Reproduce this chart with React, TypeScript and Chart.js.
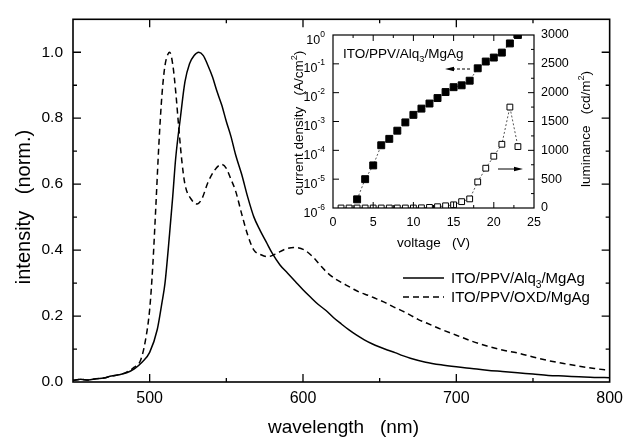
import React, { useEffect, useRef } from "react";
import { Chart, registerables } from "chart.js";

Chart.register(...registerables);

const FONT = '"Liberation Sans", Arial, Helvetica, sans-serif';

// ---------- main chart data (EL spectra) ----------
const alqWavelength = [450, 455, 460, 465, 470, 475, 480, 485, 490, 495, 500, 505, 508, 510, 513, 515, 517, 520, 523, 526, 529, 532, 535, 538, 541, 544, 547, 550, 553, 556, 560, 564, 568, 572, 576, 580, 585, 590, 595, 600, 605, 610, 615, 620, 625, 630, 635, 640, 645, 650, 655, 660, 665, 670, 680, 690, 700, 710, 720, 730, 740, 750, 760, 770, 780, 790, 800];
const alqIntensity = [0.005, 0.008, 0.006, 0.01, 0.012, 0.018, 0.022, 0.028, 0.04, 0.06, 0.09, 0.16, 0.24, 0.3, 0.45, 0.56, 0.68, 0.8, 0.91, 0.965, 0.99, 1.0, 0.99, 0.96, 0.925, 0.88, 0.84, 0.79, 0.745, 0.69, 0.63, 0.56, 0.5, 0.46, 0.425, 0.39, 0.355, 0.33, 0.305, 0.28, 0.257, 0.235, 0.217, 0.195, 0.176, 0.158, 0.142, 0.128, 0.116, 0.106, 0.097, 0.089, 0.08, 0.072, 0.06, 0.052, 0.046, 0.041, 0.036, 0.032, 0.028, 0.024, 0.02, 0.018, 0.016, 0.014, 0.013];

const oxdWavelength = [450, 455, 460, 465, 470, 475, 480, 485, 490, 494, 497, 500, 502, 504, 506, 508, 510, 512, 513, 515, 517, 519, 521, 523, 527, 531, 534, 538, 542, 547, 550, 553, 556, 560, 564, 568, 573, 577, 582, 588, 594, 601, 607, 612, 616, 621, 627, 632, 637, 643, 648, 654, 659, 665, 670, 675, 681, 690, 700, 710, 720, 730, 740, 750, 760, 770, 780, 790, 800];
const oxdIntensity = [0.005, 0.008, 0.006, 0.01, 0.012, 0.018, 0.022, 0.03, 0.045, 0.065, 0.12, 0.22, 0.35, 0.53, 0.72, 0.87, 0.96, 0.995, 1.0, 0.965, 0.88, 0.77, 0.67, 0.6, 0.555, 0.54, 0.555, 0.605, 0.64, 0.66, 0.648, 0.615, 0.58, 0.51, 0.445, 0.4, 0.385, 0.38, 0.388, 0.402, 0.408, 0.4, 0.377, 0.35, 0.331, 0.313, 0.297, 0.284, 0.272, 0.262, 0.252, 0.24, 0.228, 0.215, 0.203, 0.19, 0.178, 0.16, 0.142, 0.124, 0.109, 0.097, 0.088, 0.076, 0.065, 0.056, 0.048, 0.041, 0.035];

const seriesLabels = ["ITO/PPV/Alq₃/MgAg", "ITO/PPV/OXD/MgAg"];
const wavelengthTicks = [500, 600, 700, 800];
const intensityTicks = [0, 0.2, 0.4, 0.6, 0.8, 1.0];
const xTitle = "wavelength   (nm)";
const yTitle = "intensity   (norm.)";

// ---------- inset data (J-V and L-V) ----------
const currentVoltage = [3, 4, 5, 6, 7, 8, 9, 10, 11, 12, 13, 14, 15, 16, 17, 18, 19, 20, 21, 22, 23];
const currentDensity = [2e-6, 1e-5, 3e-5, 1.5e-4, 2.5e-4, 4.8e-4, 9.3e-4, 1.7e-3, 2.8e-3, 4.2e-3, 6.5e-3, 1.05e-2, 1.55e-2, 1.8e-2, 2.6e-2, 7e-2, 1.2e-1, 1.65e-1, 2.45e-1, 5.1e-1, 1.0];
const luminanceVoltage = [1, 2, 3, 4, 5, 6, 7, 8, 9, 10, 11, 12, 13, 14, 15, 16, 17, 18, 19, 20, 21, 22, 23];
const luminance = [0, 0, 0, 0, 0, 0, 0, 0, 0, 0, 3, 10, 22, 38, 55, 110, 158, 452, 690, 898, 1105, 1750, 1065];
const voltageTicks = [0, 5, 10, 15, 20, 25];
const luminanceTicks = [0, 500, 1000, 1500, 2000, 2500, 3000];
const currentDecades = [-6, -5, -4, -3, -2, -1, 0];
const insetLabel = "ITO/PPV/Alq₃/MgAg";
const voltageTitle = "voltage   (V)";
const currentTitle = "current density   (A/cm²)";
const luminanceTitle = "luminance   (cd/m²)";

type Seg = { t: string; sub?: boolean; sup?: boolean };

const SUBS: Record<string, string> = { "₀": "0", "₁": "1", "₂": "2", "₃": "3", "₄": "4" };
const SUPS: Record<string, string> = { "⁰": "0", "¹": "1", "²": "2", "³": "3", "⁻": "-" };

function toSegs(s: string): Seg[] {
  const out: Seg[] = [];
  for (const ch of s) {
    const kind = SUBS[ch] ? "sub" : SUPS[ch] ? "sup" : "n";
    const t = SUBS[ch] || SUPS[ch] || ch;
    const last = out[out.length - 1];
    const lastKind = last ? (last.sub ? "sub" : last.sup ? "sup" : "n") : "";
    if (last && lastKind === kind) last.t += t;
    else out.push({ t, sub: kind === "sub", sup: kind === "sup" });
  }
  return out;
}

function drawRich(
  ctx: CanvasRenderingContext2D,
  segs: Seg[],
  x: number,
  baseline: number,
  size: number,
  align: "left" | "center" | "right",
  supRaise = 0.45
) {
  const small = size * 0.68;
  ctx.textAlign = "left";
  ctx.textBaseline = "alphabetic";
  const widths = segs.map((s) => {
    ctx.font = `${s.sub || s.sup ? small : size}px ${FONT}`;
    return ctx.measureText(s.t).width;
  });
  const total = widths.reduce((a, b) => a + b, 0);
  let cx = align === "left" ? x : align === "center" ? x - total / 2 : x - total;
  segs.forEach((s, i) => {
    ctx.font = `${s.sub || s.sup ? small : size}px ${FONT}`;
    const dy = s.sub ? size * 0.28 : s.sup ? -size * supRaise : 0;
    ctx.fillText(s.t, cx, baseline + dy);
    cx += widths[i];
  });
}

function drawRotated(ctx: CanvasRenderingContext2D, text: string, cx: number, cy: number, size: number) {
  ctx.save();
  ctx.translate(cx, cy);
  ctx.rotate(-Math.PI / 2);
  drawRich(ctx, toSegs(text), 0, size * 0.35, size, "center");
  ctx.restore();
}

const near = (arr: number[], v: number) => arr.some((a) => Math.abs(a - v) < 1e-6);

const mainDecor = {
  id: "mainDecor",
  afterDraw(chart: any) {
    const { ctx, chartArea: a, scales } = chart;
    const xs = scales.x;
    const ys = scales.y;
    ctx.save();
    ctx.strokeStyle = "#000";
    ctx.lineWidth = 1.6;
    ctx.strokeRect(a.left, a.top, a.right - a.left, a.bottom - a.top);
    ctx.lineWidth = 1.3;
    ctx.beginPath();
    xs.ticks.forEach((t: any) => {
      const px = xs.getPixelForValue(t.value);
      if (px < a.left + 1 || px > a.right - 1) return;
      const len = near(wavelengthTicks, t.value) ? 8 : 4;
      ctx.moveTo(px, a.bottom);
      ctx.lineTo(px, a.bottom - len);
      ctx.moveTo(px, a.top);
      ctx.lineTo(px, a.top + len);
    });
    ys.ticks.forEach((t: any) => {
      const py = ys.getPixelForValue(t.value);
      if (py < a.top + 1 || py > a.bottom - 1) return;
      const len = near(intensityTicks, t.value) ? 8 : 4;
      ctx.moveTo(a.left, py);
      ctx.lineTo(a.left + len, py);
      ctx.moveTo(a.right, py);
      ctx.lineTo(a.right - len, py);
    });
    ctx.stroke();

    ctx.fillStyle = "#000";
    drawRotated(ctx, yTitle, 23, 207, 20);
    drawRich(ctx, toSegs(xTitle), 268, 433, 19, "left");

    // legend
    chart.data.datasets.forEach((ds: any, i: number) => {
      const ly = 278 + i * 19;
      ctx.save();
      ctx.lineWidth = 1.5;
      ctx.setLineDash(ds.borderDash || []);
      ctx.beginPath();
      ctx.moveTo(403, ly);
      ctx.lineTo(444, ly);
      ctx.stroke();
      ctx.restore();
      drawRich(ctx, toSegs(ds.label), 451, ly + 5.3, 15, "left");
    });
    ctx.restore();
  },
};

const insetDecor = {
  id: "insetDecor",
  afterDraw(chart: any) {
    const { ctx, chartArea: a, scales } = chart;
    const xs = scales.x;
    const yl = scales.y;
    const yr = scales.y1;
    ctx.save();
    ctx.strokeStyle = "#000";
    ctx.lineWidth = 1.2;
    ctx.strokeRect(a.left, a.top, a.right - a.left, a.bottom - a.top);
    ctx.lineWidth = 1;
    ctx.beginPath();
    xs.ticks.forEach((t: any) => {
      const px = xs.getPixelForValue(t.value);
      if (px < a.left + 1 || px > a.right - 1) return;
      const len = near(voltageTicks, t.value) ? 6 : 3;
      ctx.moveTo(px, a.bottom);
      ctx.lineTo(px, a.bottom - len);
      ctx.moveTo(px, a.top);
      ctx.lineTo(px, a.top + len);
    });
    currentDecades.forEach((e) => {
      const py = yl.getPixelForValue(Math.pow(10, e));
      if (py < a.top + 1 || py > a.bottom - 1) return;
      ctx.moveTo(a.left, py);
      ctx.lineTo(a.left + 6, py);
    });
    yr.ticks.forEach((t: any) => {
      const py = yr.getPixelForValue(t.value);
      if (py < a.top + 1 || py > a.bottom - 1) return;
      const len = near(luminanceTicks, t.value) ? 6 : 3;
      ctx.moveTo(a.right, py);
      ctx.lineTo(a.right - len, py);
    });
    ctx.stroke();

    ctx.fillStyle = "#000";
    // log axis labels with superscript exponents
    currentDecades.forEach((e) => {
      const py = yl.getPixelForValue(Math.pow(10, e));
      drawRich(ctx, [{ t: "10" }, { t: String(e), sup: true }], a.left - 8, py + 8.5, 12.5, "right", 0.55);
    });

    drawRotated(ctx, currentTitle, 298, 123, 13.5);
    drawRotated(ctx, luminanceTitle, 585, 129, 13.5);
    drawRich(ctx, toSegs(voltageTitle), (a.left + a.right) / 2, 247, 13.5, "center");
    drawRich(ctx, toSegs(insetLabel), 343, 58, 13.5, "left");

    // arrows
    const ly = 69;
    ctx.save();
    ctx.lineWidth = 1;
    ctx.setLineDash([3, 2]);
    ctx.beginPath();
    ctx.moveTo(470, ly);
    ctx.lineTo(452, ly);
    ctx.stroke();
    ctx.restore();
    ctx.beginPath();
    ctx.moveTo(445, ly);
    ctx.lineTo(454, ly - 2.2);
    ctx.lineTo(454, ly + 2.2);
    ctx.closePath();
    ctx.fill();

    const ry = 169;
    ctx.lineWidth = 1;
    ctx.beginPath();
    ctx.moveTo(498, ry);
    ctx.lineTo(516, ry);
    ctx.stroke();
    ctx.beginPath();
    ctx.moveTo(523, ry);
    ctx.lineTo(514, ry - 2.2);
    ctx.lineTo(514, ry + 2.2);
    ctx.closePath();
    ctx.fill();
    ctx.restore();
  },
};

export default function App() {
  const mainRef = useRef<HTMLCanvasElement>(null);
  const insetRef = useRef<HTMLCanvasElement>(null);

  useEffect(() => {
    Chart.defaults.font.family = FONT;
    Chart.defaults.color = "#000";

    const main = new Chart(mainRef.current as HTMLCanvasElement, {
      type: "line",
      data: {
        datasets: [
          {
            label: seriesLabels[0],
            data: alqWavelength.map((w, i) => ({ x: w, y: alqIntensity[i] })),
            borderColor: "#000",
            borderWidth: 1.5,
            pointRadius: 0,
            cubicInterpolationMode: "monotone",
            fill: false,
          },
          {
            label: seriesLabels[1],
            data: oxdWavelength.map((w, i) => ({ x: w, y: oxdIntensity[i] })),
            borderColor: "#000",
            borderWidth: 1.5,
            borderDash: [6, 4],
            pointRadius: 0,
            cubicInterpolationMode: "monotone",
            fill: false,
          },
        ],
      },
      options: {
        animation: false,
        responsive: false,
        events: [],
        layout: { padding: { left: 0, top: 10, right: 17, bottom: 0 } },
        plugins: { legend: { display: false }, tooltip: { enabled: false } },
        scales: {
          x: {
            type: "linear",
            min: 450,
            max: 800,
            grid: { display: false, drawTicks: false },
            border: { display: false },
            ticks: {
              stepSize: 50,
              autoSkip: false,
              maxRotation: 0,
              padding: 7,
              font: { size: 16 },
              callback: (v: any) => (near(wavelengthTicks, Number(v)) ? String(v) : ""),
            },
            afterFit: (s: any) => {
              s.height = 58;
            },
          },
          y: {
            type: "linear",
            min: 0,
            max: 1.1,
            grid: { display: false, drawTicks: false },
            border: { display: false },
            ticks: {
              stepSize: 0.1,
              autoSkip: false,
              padding: 10,
              font: { size: 15.5 },
              callback: (v: any) => (near(intensityTicks, Number(v)) ? Number(v).toFixed(1) : ""),
            },
            afterFit: (s: any) => {
              s.width = 73;
            },
          },
        },
      },
      plugins: [mainDecor],
    } as any);

    const inset = new Chart(insetRef.current as HTMLCanvasElement, {
      type: "line",
      data: {
        datasets: [
          {
            label: "current density",
            data: currentVoltage.map((v, i) => ({ x: v, y: currentDensity[i] })),
            yAxisID: "y",
            borderColor: "#555",
            borderWidth: 1,
            borderDash: [2, 2],
            pointStyle: "rect",
            pointRadius: 4.9,
            pointBackgroundColor: "#000",
            pointBorderColor: "#000",
            pointBorderWidth: 1,
            fill: false,
          },
          {
            label: "luminance",
            data: luminanceVoltage.map((v, i) => ({ x: v, y: luminance[i] })),
            yAxisID: "y1",
            borderColor: "#555",
            borderWidth: 1,
            borderDash: [2, 2],
            pointStyle: "rect",
            pointRadius: 4.1,
            pointBackgroundColor: "#fff",
            pointBorderColor: "#000",
            pointBorderWidth: 1,
            fill: false,
          },
        ],
      },
      options: {
        animation: false,
        responsive: false,
        events: [],
        layout: { padding: { left: 0, top: 35, right: 0, bottom: 0 } },
        plugins: { legend: { display: false }, tooltip: { enabled: false } },
        scales: {
          x: {
            type: "linear",
            min: 0,
            max: 25,
            grid: { display: false, drawTicks: false },
            border: { display: false },
            ticks: {
              stepSize: 2.5,
              autoSkip: false,
              maxRotation: 0,
              padding: 7,
              font: { size: 12.5 },
              callback: (v: any) => (near(voltageTicks, Number(v)) ? String(v) : ""),
            },
            afterFit: (s: any) => {
              s.height = 232;
            },
          },
          y: {
            type: "logarithmic",
            position: "left",
            min: 1e-6,
            max: 1,
            grid: { display: false, drawTicks: false },
            border: { display: false },
            ticks: { display: false },
            afterBuildTicks: (s: any) => {
              s.ticks = currentDecades.map((e) => ({ value: Math.pow(10, e) }));
            },
            afterFit: (s: any) => {
              s.width = 333;
            },
          },
          y1: {
            type: "linear",
            position: "right",
            min: 0,
            max: 3000,
            grid: { display: false, drawTicks: false },
            border: { display: false },
            ticks: {
              stepSize: 250,
              autoSkip: false,
              padding: 7,
              font: { size: 12.5 },
              callback: (v: any) => (near(luminanceTicks, Number(v)) ? String(v) : ""),
            },
            afterFit: (s: any) => {
              s.width = 96;
            },
          },
        },
      },
      plugins: [insetDecor],
    } as any);

    return () => {
      main.destroy();
      inset.destroy();
    };
  }, []);

  const layer: React.CSSProperties = { position: "absolute", left: 0, top: 0, width: 630, height: 440 };
  return (
    <div style={{ position: "fixed", left: 0, top: 0, width: 630, height: 440, background: "#fff", overflow: "hidden" }}>
      <canvas ref={mainRef} width={630} height={440} style={layer} />
      <canvas ref={insetRef} width={630} height={440} style={layer} />
    </div>
  );
}
